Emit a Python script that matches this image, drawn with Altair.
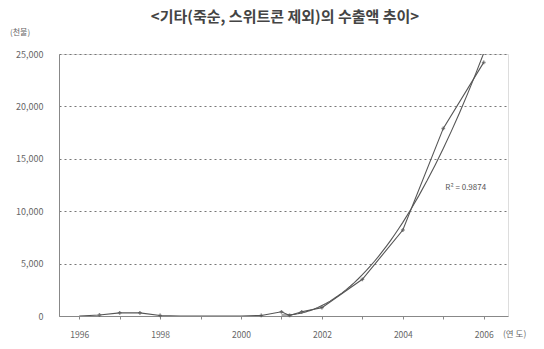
import altair as alt
import pandas as pd

# Export value of "other" items (thousand US$), half-yearly early, yearly later
years = [1996.0, 1996.5, 1997.0, 1997.5, 1998.0, 1998.5, 1999.0, 1999.5,
         2000.0, 2000.5, 2001.0, 2001.2, 2001.5, 2002.0, 2003.0, 2004.0,
         2005.0, 2006.0]
values = [0, 100, 300, 300, 50, 0, 0, 0,
          0, 50, 400, 50, 400, 800, 3500, 8200,
          17900, 24200]

y_ticks = [0, 5000, 10000, 15000, 20000, 25000]
x_ticks = [1996 + 0.5 * i for i in range(22)]
r2_label = ["R\u00b2 = 0.9874"]
title_text = ["<기타(죽순, 스위트콘 제외)의 수출액 추이>"]
trend_start = 2001.0

FONT = "Noto Sans CJK KR"
INK = "#555555"

df = pd.DataFrame({"year": years, "value": values})

x_scale = alt.Scale(domain=[1995.5, 2006.6], nice=False, zero=False)
y_scale = alt.Scale(domain=[0, 25000], nice=False)

base = alt.Chart(df)

series = base.mark_line(color=INK, strokeWidth=1.1, clip=True).encode(
    x=alt.X("year:Q", scale=x_scale,
            axis=alt.Axis(values=x_ticks, title=None, grid=False,
                          labelExpr="datum.value % 2 == 0 ? datum.value : ''",
                          labelFont=FONT, labelFontSize=8.5, labelColor="#666",
                          labelPadding=11, tickSize=3, tickColor="#888",
                          domainColor="#888")),
    y=alt.Y("value:Q", scale=y_scale,
            axis=alt.Axis(values=y_ticks, title=None, format=",d",
                          grid=True, gridDash=[2, 3], gridColor="#777",
                          gridWidth=1, labelFont=FONT, labelFontSize=9,
                          labelColor="#666", labelPadding=16, ticks=False,
                          domainColor="#888")),
)

markers = base.mark_point(shape="cross", size=14, filled=True, color=INK).encode(
    x=alt.X("year:Q", scale=x_scale),
    y=alt.Y("value:Q", scale=y_scale),
).transform_filter("datum.value > 0")

# quadratic trend over the growth period
trend = base.transform_filter(
    alt.datum.year >= trend_start
).transform_regression(
    "year", "value", method="poly", order=2
).mark_line(color=INK, strokeWidth=1.1, clip=True).encode(
    x=alt.X("year:Q", scale=x_scale),
    y=alt.Y("value:Q", scale=y_scale),
)

r2 = alt.Chart(pd.DataFrame({"year": [2005.05], "value": [12200], "t": r2_label})).mark_text(
    align="left", font=FONT, fontSize=8, color="#555"
).encode(
    x=alt.X("year:Q", scale=x_scale),
    y=alt.Y("value:Q", scale=y_scale),
    text="t:N",
)

unit = alt.Chart(pd.DataFrame({"t": ["(천불)"]})).mark_text(
    align="left", font=FONT, fontSize=8, color="#666"
).encode(x=alt.value(-49), y=alt.value(-21), text="t:N")

xunit = alt.Chart(pd.DataFrame({"t": ["(연 도)"]})).mark_text(
    align="left", font=FONT, fontSize=8.5, color="#666"
).encode(x=alt.value(444), y=alt.value(280), text="t:N")

heading = alt.Chart(pd.DataFrame({"t": title_text})).mark_text(
    align="center", font=FONT, fontSize=15, fontWeight="bold", color="#444"
).encode(x=alt.value(226), y=alt.value(-37), text="t:N")

chart = alt.layer(series, trend, markers, r2, unit, xunit, heading).properties(
    width=449, height=262,
    autosize=alt.AutoSizeParams(type="none"),
    padding={"left": 59, "top": 54, "right": 36, "bottom": 33},
).configure_view(stroke="#888", strokeWidth=1.2).configure(background="white")

chart.save("out.html", embed_options={"renderer": "svg", "actions": False})
